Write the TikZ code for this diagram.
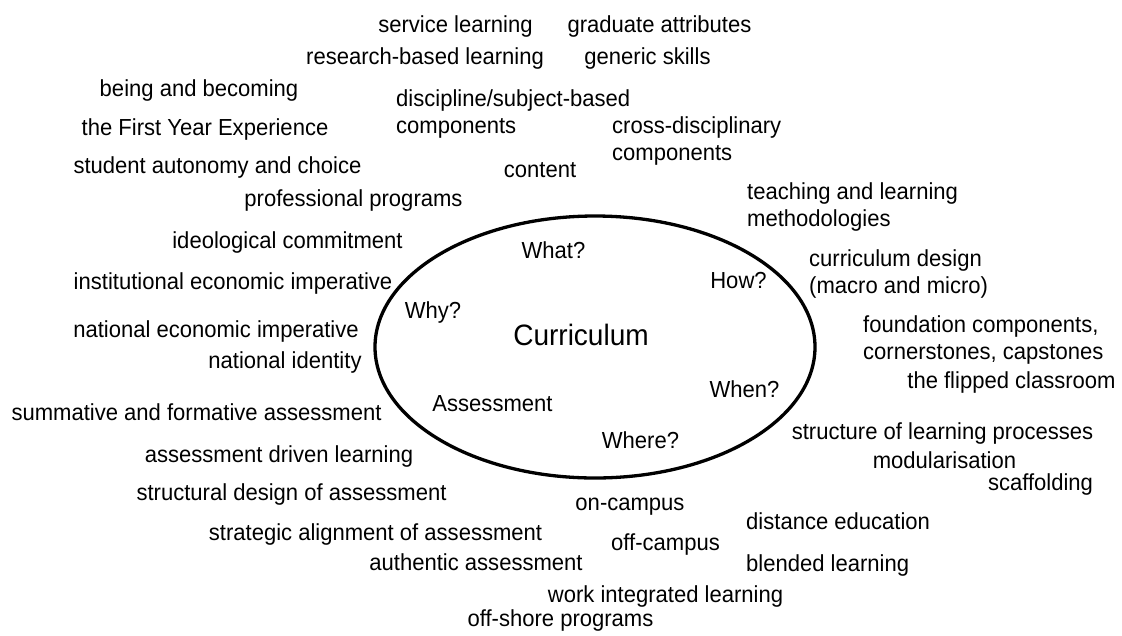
\documentclass[tikz,border=0pt]{standalone}
\usepackage{fontspec}
\setmainfont{Liberation Sans}[FakeStretch=0.95]
\usetikzlibrary{shapes.geometric}
\tikzset{
  lbl/.style={inner sep=0pt, font=\fontsize{23.2}{27}\selectfont, anchor=base},
  lblw/.style={lbl, anchor=base west},
  title/.style={inner sep=0pt, font=\fontsize{29.5}{34}\selectfont, anchor=base},
  oval/.style={draw, ellipse, line width=3.3pt, minimum width=440pt, minimum height=262pt, inner sep=0pt},
}
\newcommand\twolines[2]{\begin{tabular}[t]{@{}l@{}}#1\\#2\end{tabular}}
\begin{document}
\begin{tikzpicture}[x=1pt,y=-1pt]
\useasboundingbox (0,0) rectangle (1122,635);
\node[oval] (oval) at (595,347) {};
\node[title] (cur) at (581,345) {Curriculum};
% questions
\node[lbl] (what) at (553.5,258) {What?};
\node[lbl] (how) at (738.5,288) {How?};
\node[lbl] (why) at (433,318) {Why?};
\node[lbl] (when) at (744.5,397) {When?};
\node[lbl] (asm) at (492.5,411) {Assessment};
\node[lbl] (where) at (640.5,448) {Where?};
% top
\node[lbl] (t1) at (455.5,32) {service learning};
\node[lbl] (t2) at (659.5,32) {graduate attributes};
\node[lbl] (t3) at (425,64) {research-based learning};
\node[lbl] (t4) at (647.5,64) {generic skills};
\node[lbl] (t5) at (199,96) {being and becoming};
\node[lblw] (t6) at (396,106) {\twolines{discipline/subject-based}{components}};
\node[lbl] (t7) at (205,135) {the First Year Experience};
\node[lblw] (t8) at (612,133) {\twolines{cross-disciplinary}{components}};
\node[lbl] (t9) at (217.5,173) {student autonomy and choice};
\node[lbl] (t10) at (540,177) {content};
\node[lbl] (t11) at (353.5,206) {professional programs};
\node[lblw] (t12) at (747,199) {\twolines{teaching and learning}{methodologies}};
% left
\node[lbl] (l1) at (287.5,248) {ideological commitment};
\node[lbl] (l2) at (233,289) {institutional economic imperative};
\node[lbl] (l3) at (216,337) {national economic imperative};
\node[lbl] (l4) at (285,368) {national identity};
\node[lbl] (l5) at (196.5,420) {summative and formative assessment};
\node[lbl] (l6) at (279,462) {assessment driven learning};
\node[lbl] (l7) at (291.5,500) {structural design of assessment};
\node[lbl] (l8) at (375.5,540) {strategic alignment of assessment};
\node[lbl] (l9) at (476,570) {authentic assessment};
% right
\node[lblw] (r1) at (809,266) {\twolines{curriculum design}{(macro and micro)}};
\node[lblw] (r2) at (863,332) {\twolines{foundation components,}{cornerstones, capstones}};
\node[lbl] (r3) at (1011.5,388) {the flipped classroom};
\node[lbl] (r4) at (942.5,439) {structure of learning processes};
\node[lbl] (r5) at (944.5,468) {modularisation};
\node[lbl] (r6) at (1040.5,490) {scaffolding};
% bottom
\node[lbl] (b1) at (630,510) {on-campus};
\node[lblw] (b2) at (746,529) {distance education};
\node[lbl] (b3) at (665.5,550) {off-campus};
\node[lblw] (b4) at (746,571) {blended learning};
\node[lbl] (b5) at (665.5,602) {work integrated learning};
\node[lbl] (b6) at (560.5,626) {off-shore programs};
\end{tikzpicture}
\end{document}
